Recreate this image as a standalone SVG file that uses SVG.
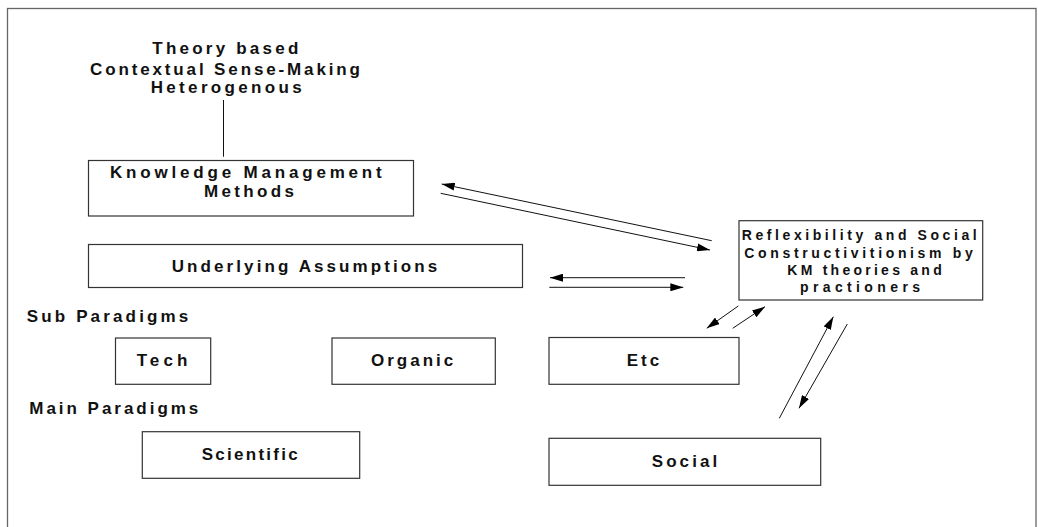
<svg xmlns="http://www.w3.org/2000/svg" width="1038" height="527" viewBox="0 0 1038 527">
<style>
.bx{fill:#fff;stroke:#333;stroke-width:1.2}
.t{font-family:"Liberation Sans",Arial,sans-serif;font-weight:bold;font-size:17px;fill:#111}
.s{font-size:14px}
.ln{stroke:#111;stroke-width:1;fill:none}
</style>
<defs>
<marker id="ah" markerUnits="userSpaceOnUse" markerWidth="13" markerHeight="8" refX="13" refY="4" orient="auto"><path d="M0,0 L13,4 L0,8 z" fill="#000"/></marker>
</defs>
<rect x="7.5" y="8.5" width="1028.5" height="540" fill="#fff" stroke="#666" stroke-width="1.3"/>
<g id="header">
<text class="t" x="152.3" y="54" textLength="146" lengthAdjust="spacing">Theory based</text>
<text class="t" x="90" y="75" textLength="270" lengthAdjust="spacing">Contextual Sense-Making</text>
<text class="t" x="150.7" y="93" textLength="151" lengthAdjust="spacing">Heterogenous</text>
</g>
<g id="kmm">
<rect class="bx" x="88.5" y="160.5" width="325" height="55.5"/>
<text class="t" x="110" y="178.3" textLength="271.7" lengthAdjust="spacing">Knowledge Management</text>
<text class="t" x="204" y="196.7" textLength="90" lengthAdjust="spacing">Methods</text>
</g>
<g id="assumptions">
<rect class="bx" x="88.5" y="244.5" width="434" height="43"/>
<text class="t" x="171.7" y="271.5" textLength="265.6" lengthAdjust="spacing">Underlying Assumptions</text>
</g>
<g id="reflex">
<rect class="bx" x="739" y="220.7" width="243.7" height="79.3"/>
<text class="t s" x="741.7" y="240" textLength="235" lengthAdjust="spacing">Reflexibility and Social</text>
<text class="t s" x="744.3" y="257.5" textLength="228.4" lengthAdjust="spacing">Constructivitionism by</text>
<text class="t s" x="787.3" y="275" textLength="154.4" lengthAdjust="spacing">KM theories and</text>
<text class="t s" x="800" y="291.7" textLength="120" lengthAdjust="spacing">practioners</text>
</g>
<g id="labels">
<text class="t" x="26.7" y="321.7" textLength="161.6" lengthAdjust="spacing">Sub Paradigms</text>
<text class="t" x="29.3" y="414.3" textLength="169" lengthAdjust="spacing">Main Paradigms</text>
</g>
<g id="tech">
<rect class="bx" x="115.5" y="338" width="95.2" height="46.3"/>
<text class="t" x="136.7" y="366" textLength="50.6" lengthAdjust="spacing">Tech</text>
</g>
<g id="organic">
<rect class="bx" x="332" y="338" width="163.3" height="46.3"/>
<text class="t" x="371" y="366" textLength="82.3" lengthAdjust="spacing">Organic</text>
</g>
<g id="etc">
<rect class="bx" x="549" y="337.5" width="190" height="46.8"/>
<text class="t" x="626.7" y="366" textLength="32.6" lengthAdjust="spacing">Etc</text>
</g>
<g id="scientific">
<rect class="bx" x="142.3" y="431.7" width="217.4" height="46.6"/>
<text class="t" x="201.7" y="460" textLength="96" lengthAdjust="spacing">Scientific</text>
</g>
<g id="social">
<rect class="bx" x="549" y="438.3" width="271.7" height="47"/>
<text class="t" x="651.7" y="467.3" textLength="65.6" lengthAdjust="spacing">Social</text>
</g>
<g id="connectors">
<line class="ln" x1="223.5" y1="100" x2="223.5" y2="156.7" stroke="#444"/>
<line class="ln" x1="711.7" y1="240.7" x2="441.7" y2="184" marker-end="url(#ah)"/>
<line class="ln" x1="440.7" y1="193.3" x2="710" y2="250" marker-end="url(#ah)"/>
<line class="ln" x1="685" y1="277.7" x2="550" y2="277.7" marker-end="url(#ah)"/>
<line class="ln" x1="549.3" y1="287.3" x2="683.3" y2="287.3" marker-end="url(#ah)"/>
<line class="ln" x1="738.3" y1="306" x2="706.7" y2="328.3" marker-end="url(#ah)"/>
<line class="ln" x1="732.7" y1="328.3" x2="765" y2="306.7" marker-end="url(#ah)"/>
<line class="ln" x1="779.3" y1="418.3" x2="833.3" y2="316.7" marker-end="url(#ah)"/>
<line class="ln" x1="847.3" y1="324" x2="799" y2="408.3" marker-end="url(#ah)"/>
</g>
</svg>
